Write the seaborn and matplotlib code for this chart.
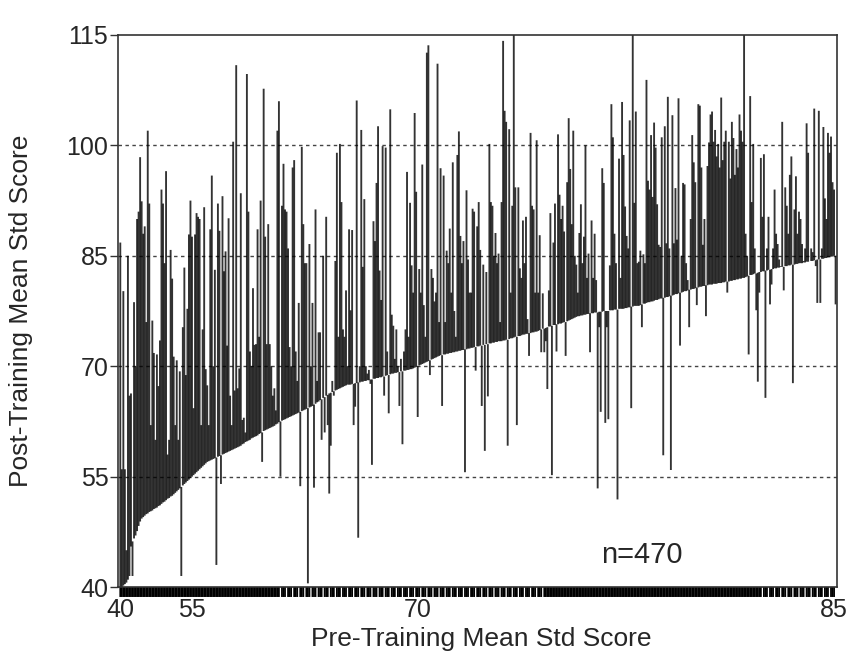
import numpy as np
import matplotlib
matplotlib.use("Agg")
import matplotlib.pyplot as plt
import seaborn as sns

# pre-training score of each of the 470 students, sorted (lower envelope)
pre_score = [
    40.0, 40.0, 40.2, 40.4, 40.6, 41.0, 41.5, 45.5, 46.2, 46.6,
    47.0, 47.6, 48.3, 48.9, 49.3, 49.5, 49.7, 49.9, 50.0, 50.2,
    50.3, 50.4, 50.6, 50.7, 50.8, 51.0, 51.1, 51.3, 51.5, 51.6,
    51.8, 52.0, 52.1, 52.3, 52.4, 52.6, 52.8, 53.0, 53.2, 53.4,
    53.6, 53.8, 54.0, 54.2, 54.4, 54.6, 54.8, 55.0, 55.2, 55.4,
    55.6, 55.8, 56.0, 56.2, 56.4, 56.6, 56.8, 57.0, 57.1, 57.2,
    57.3, 57.4, 57.5, 57.6, 57.7, 57.8, 57.9, 58.0, 58.1, 58.2,
    58.3, 58.4, 58.5, 58.6, 58.7, 58.8, 58.9, 59.0, 59.1, 59.2,
    59.4, 59.5, 59.7, 59.8, 59.9, 60.0, 60.2, 60.3, 60.4, 60.5,
    60.6, 60.8, 60.9, 61.0, 61.2, 61.3, 61.4, 61.5, 61.6, 61.7,
    61.8, 61.9, 62.1, 62.2, 62.4, 62.5, 62.6, 62.7, 62.8, 62.9,
    63.0, 63.1, 63.2, 63.3, 63.4, 63.5, 63.6, 63.7, 63.8, 63.9,
    64.0, 64.1, 64.2, 64.3, 64.4, 64.5, 64.6, 64.8, 64.9, 65.1,
    65.2, 65.4, 65.5, 65.7, 65.8, 66.0, 66.1, 66.3, 66.4, 66.5,
    66.6, 66.7, 66.8, 66.9, 67.0, 67.1, 67.2, 67.3, 67.4, 67.5,
    67.5, 67.5, 67.6, 67.6, 67.7, 67.7, 67.8, 67.8, 67.9, 67.9,
    68.0, 68.0, 68.1, 68.1, 68.2, 68.2, 68.3, 68.3, 68.4, 68.4,
    68.5, 68.5, 68.6, 68.6, 68.7, 68.8, 68.8, 68.9, 69.0, 69.0,
    69.1, 69.1, 69.2, 69.2, 69.3, 69.3, 69.4, 69.4, 69.5, 69.5,
    69.6, 69.6, 69.7, 69.8, 69.9, 70.0, 70.1, 70.2, 70.3, 70.4,
    70.5, 70.6, 70.7, 70.8, 70.9, 71.0, 71.1, 71.2, 71.3, 71.4,
    71.5, 71.5, 71.6, 71.6, 71.7, 71.7, 71.8, 71.8, 71.9, 71.9,
    72.0, 72.0, 72.1, 72.1, 72.2, 72.2, 72.3, 72.3, 72.4, 72.4,
    72.5, 72.5, 72.6, 72.6, 72.7, 72.7, 72.8, 72.8, 72.9, 72.9,
    73.0, 73.0, 73.1, 73.1, 73.2, 73.2, 73.3, 73.3, 73.4, 73.4,
    73.4, 73.5, 73.5, 73.6, 73.6, 73.7, 73.8, 73.8, 73.9, 74.0,
    74.0, 74.1, 74.1, 74.2, 74.3, 74.3, 74.4, 74.4, 74.5, 74.5,
    74.6, 74.6, 74.7, 74.7, 74.8, 74.9, 75.0, 75.1, 75.1, 75.2,
    75.3, 75.4, 75.4, 75.5, 75.6, 75.6, 75.7, 75.7, 75.8, 75.8,
    75.9, 76.0, 76.0, 76.1, 76.2, 76.3, 76.4, 76.5, 76.6, 76.7,
    76.8, 76.8, 76.9, 76.9, 77.0, 77.0, 77.1, 77.1, 77.2, 77.2,
    77.2, 77.3, 77.3, 77.3, 77.4, 77.4, 77.4, 77.5, 77.5, 77.5,
    77.5, 77.6, 77.6, 77.6, 77.7, 77.7, 77.7, 77.8, 77.8, 77.8,
    77.8, 77.9, 77.9, 78.0, 78.0, 78.1, 78.1, 78.2, 78.2, 78.2,
    78.2, 78.3, 78.4, 78.5, 78.5, 78.6, 78.7, 78.7, 78.8, 78.8,
    78.9, 79.0, 79.0, 79.1, 79.2, 79.2, 79.3, 79.3, 79.4, 79.4,
    79.5, 79.6, 79.6, 79.7, 79.8, 79.8, 79.9, 80.0, 80.0, 80.1,
    80.2, 80.2, 80.3, 80.4, 80.4, 80.5, 80.5, 80.6, 80.7, 80.7,
    80.8, 80.8, 80.9, 80.9, 81.0, 81.0, 81.1, 81.1, 81.1, 81.2,
    81.2, 81.2, 81.3, 81.3, 81.3, 81.4, 81.4, 81.5, 81.5, 81.5,
    81.6, 81.6, 81.7, 81.7, 81.8, 81.8, 81.9, 81.9, 82.0, 82.0,
    82.1, 82.2, 82.3, 82.4, 82.4, 82.5, 82.6, 82.6, 82.7, 82.8,
    82.8, 82.9, 82.9, 83.0, 83.0, 83.1, 83.1, 83.2, 83.2, 83.3,
    83.3, 83.4, 83.4, 83.5, 83.5, 83.5, 83.6, 83.6, 83.7, 83.7,
    83.8, 83.8, 83.8, 83.9, 83.9, 84.0, 84.0, 84.0, 84.1, 84.1,
    84.2, 84.2, 84.3, 84.3, 84.3, 84.4, 84.4, 84.5, 84.5, 84.5,
    84.6, 84.6, 84.7, 84.7, 84.8, 84.8, 84.9, 84.9, 85.0, 85.0,
]

# post-training score of the same students (same order)
post_score = [
    86.8, 56.0, 80.2, 56.0, 45.0, 85.0, 66.0, 66.3, 41.5, 78.7,
    70.0, 90.0, 91.0, 98.4, 92.4, 88.0, 89.0, 76.0, 102.0, 92.1,
    62.0, 76.2, 71.8, 60.0, 71.6, 67.3, 73.5, 94.0, 92.1, 84.0,
    96.5, 58.0, 60.0, 85.8, 81.9, 71.3, 62.0, 70.8, 60.0, 69.3,
    41.5, 75.3, 83.4, 68.8, 77.8, 87.9, 92.5, 87.6, 64.3, 87.9,
    90.8, 90.3, 90.0, 62.0, 75.0, 91.6, 69.6, 67.4, 62.0, 88.6,
    95.9, 70.0, 83.1, 43.0, 92.1, 88.4, 54.0, 93.1, 82.9, 85.6,
    72.8, 90.1, 66.0, 62.0, 100.5, 66.7, 110.9, 67.0, 69.7, 93.5,
    62.7, 63.0, 61.0, 109.7, 91.0, 72.0, 70.0, 80.6, 72.9, 73.0,
    88.6, 74.0, 92.5, 57.0, 107.7, 87.6, 73.0, 89.3, 73.0, 70.0,
    66.0, 67.0, 64.0, 102.0, 106.0, 55.0, 91.8, 97.5, 91.3, 91.0,
    86.0, 72.6, 70.0, 97.0, 98.0, 72.0, 68.0, 78.6, 53.7, 99.8,
    89.3, 84.0, 84.0, 40.5, 86.6, 70.0, 78.6, 53.5, 91.3, 68.0,
    74.6, 74.6, 60.0, 85.0, 61.0, 90.3, 62.0, 52.7, 59.2, 68.0,
    66.0, 84.3, 99.0, 74.0, 100.2, 92.3, 75.0, 74.0, 80.3, 70.0,
    88.6, 77.6, 88.5, 62.0, 64.5, 106.1, 46.7, 70.0, 102.1, 83.5,
    92.7, 70.0, 69.0, 69.5, 67.6, 56.6, 89.7, 87.0, 94.9, 102.6,
    83.0, 79.0, 99.9, 66.0, 99.7, 72.0, 63.6, 104.9, 77.0, 75.5,
    71.0, 75.0, 70.0, 64.6, 71.0, 59.4, 72.0, 75.0, 96.4, 74.0,
    92.2, 83.7, 80.0, 104.4, 93.7, 63.1, 83.2, 80.0, 97.4, 78.3,
    74.0, 112.6, 113.6, 68.8, 83.2, 82.0, 78.8, 80.0, 111.1, 76.0,
    96.9, 64.6, 95.9, 76.0, 85.7, 84.0, 88.7, 80.0, 97.7, 77.5,
    74.0, 98.7, 101.9, 87.7, 84.0, 87.0, 55.6, 93.9, 84.5, 80.0,
    80.0, 91.4, 91.0, 69.4, 89.0, 92.3, 85.8, 64.6, 83.8, 58.5,
    82.8, 65.9, 100.2, 92.3, 91.8, 85.0, 88.1, 84.0, 85.3, 76.0,
    92.3, 114.2, 104.7, 103.2, 59.2, 102.2, 80.0, 91.8, 118.0, 94.3,
    62.0, 94.3, 83.3, 82.0, 89.8, 84.0, 90.3, 76.4, 71.4, 101.7,
    91.8, 91.3, 80.0, 100.7, 80.0, 87.8, 71.9, 79.9, 71.9, 73.4,
    66.9, 80.3, 90.8, 55.2, 86.8, 92.1, 72.0, 101.5, 93.3, 90.0,
    91.8, 88.3, 71.4, 95.0, 103.7, 96.8, 89.3, 102.0, 85.0, 83.8,
    80.0, 88.1, 92.0, 84.0, 87.6, 100.0, 82.0, 85.3, 71.9, 89.8,
    82.0, 88.0, 81.7, 53.4, 75.3, 63.8, 96.9, 94.9, 62.3, 75.3,
    62.8, 83.7, 105.6, 101.1, 88.0, 84.0, 51.9, 98.2, 82.0, 105.9,
    98.7, 91.7, 87.7, 86.0, 103.4, 64.3, 118.0, 92.2, 104.6, 84.0,
    84.2, 85.7, 75.3, 85.2, 84.0, 108.9, 95.2, 94.0, 101.4, 93.0,
    103.1, 99.7, 92.0, 86.5, 86.2, 101.1, 57.9, 102.6, 86.7, 106.6,
    86.0, 55.9, 104.1, 86.7, 94.2, 87.2, 106.4, 72.8, 85.0, 94.9,
    94.7, 84.0, 81.7, 75.3, 90.0, 101.4, 97.7, 95.0, 78.3, 105.6,
    105.4, 97.0, 86.5, 90.0, 76.8, 97.2, 100.4, 104.2, 104.6, 100.5,
    102.1, 98.5, 100.2, 97.0, 106.5, 98.0, 100.5, 102.0, 80.0, 100.5,
    95.5, 103.2, 101.0, 96.0, 99.5, 97.0, 104.2, 102.0, 100.5, 118.0,
    88.0, 85.0, 71.6, 106.7, 92.3, 100.2, 86.0, 77.6, 67.9, 80.0,
    98.3, 90.3, 98.8, 65.7, 86.0, 90.3, 78.4, 81.1, 86.0, 94.0,
    88.0, 86.6, 84.5, 83.6, 103.2, 80.3, 94.3, 91.8, 88.0, 96.0,
    98.5, 67.7, 91.3, 95.8, 88.0, 91.0, 90.0, 86.6, 84.3, 86.0,
    103.0, 99.0, 84.3, 86.0, 85.5, 105.0, 83.6, 78.6, 104.7, 78.6,
    86.0, 102.5, 92.8, 90.0, 101.7, 99.0, 101.2, 95.0, 94.0, 78.4,
]

y_ticks = [40, 55, 70, 85, 100, 115]
x_tick_scores = [40, 55, 70, 85]
n_label = "n=470"

# stretches of the rank axis where the bottom strip looks broken
sparse_ranks = [(104, 278), (420, 470)]

sns.set_theme(style="white")
plt.rcParams["font.family"] = ["Liberation Sans", "DejaVu Sans"]

pre = np.array(pre_score)
post = np.array(post_score)
rank = np.arange(len(pre))

fig = plt.figure(figsize=(8.49, 6.54), dpi=100)
ax = fig.add_axes([0.139, 0.1024, 0.847, 0.8441])

# grid first, so the lines sit on top
for v in y_ticks[1:-1]:
    ax.axhline(v, color="#444444", lw=1.0, ls=(0, (2.5, 2.5)), zorder=1)

# semi-transparent so single lines look grey and packed ones go black
ax.vlines(rank, pre, post, color="black", alpha=0.8, lw=1.35,
          snap=False, zorder=2)

# strip of ranks under the axis
rug_mask = np.ones(len(rank), dtype=bool)
for a, b in sparse_ranks:
    sel = (rank >= a) & (rank < b)
    rug_mask[sel & (rank % 4 == 1)] = False
sns.rugplot(x=rank[rug_mask], height=-0.018, clip_on=False, ax=ax,
            color="black", linewidth=1.3, expand_margins=False, snap=False)

ax.set_xlim(-1.5, 470)
ax.set_ylim(40, 115)

ax.set_yticks(y_ticks)
ax.set_yticklabels([str(t) for t in y_ticks], fontsize=18)
x_pos = np.searchsorted(pre, x_tick_scores)
x_pos = np.minimum(x_pos, len(pre) - 1)
ax.set_xticks(x_pos)
ax.set_xticklabels([str(t) for t in x_tick_scores], fontsize=18)
ax.tick_params(axis="y", direction="out", length=6, width=1, color="#333333", pad=1, left=True)
ax.tick_params(axis="x", length=0, pad=8)

for s in ax.spines.values():
    s.set_color("#333333")
    s.set_linewidth(1.2)

ax.set_ylabel("Post-Training Mean Std Score", fontsize=19)
ax.yaxis.set_label_coords(-0.118, 0.5)
ax.set_xlabel("Pre-Training Mean Std Score", fontsize=19)
ax.xaxis.set_label_coords(0.505, -0.072)

ax.text(0.672, 0.058, n_label, transform=ax.transAxes, fontsize=21, ha="left", va="center")

fig.savefig("out.png", dpi=100, facecolor="white")
